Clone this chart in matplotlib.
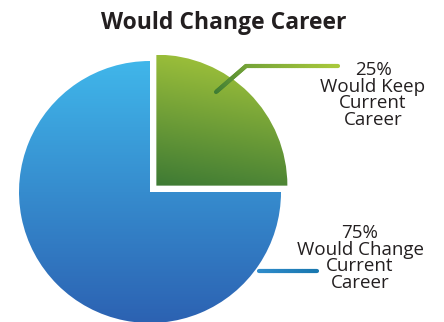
import numpy as np
import matplotlib.pyplot as plt
from matplotlib.colors import LinearSegmentedColormap
from matplotlib.collections import LineCollection

# data
labels = ['Would Keep\nCurrent\nCareer', 'Would Change\nCurrent\nCareer']
shares = [25, 75]
pcts = ['25%', '75%']

title = 'Would Change Career'
text_color = '#231f20'

# gradient colours (top -> bottom)
green_grad = ['#a8c83b', '#3e7a34']
blue_grad = ['#40b6ea', '#2c62b2']

plt.rcParams['font.family'] = ['Open Sans', 'DejaVu Sans']

fig = plt.figure(figsize=(4.44, 3.22), dpi=100)
ax = fig.add_axes([0, 0, 1, 1])

# pie drawn in pixel-like units (y up); explode is in data units here
cx, cy, r = 150, 130, 131
wedges, _ = ax.pie(shares, explode=[9.0, 0], startangle=0, counterclock=True,
                   center=(cx, cy), radius=r, colors=['none', 'none'],
                   frame=False)
ax.set_xlim(0, 444)
ax.set_ylim(0, 322)
ax.set_aspect('equal')
ax.axis('off')


def fill_gradient(wedge, cols, tilt=0.0):
    # top->bottom gradient clipped to the wedge
    bb = wedge.get_path().get_extents(wedge.get_patch_transform())
    yy, xx = np.mgrid[0:1:200j, 0:1:200j]
    g = yy * (1 - tilt) + xx * tilt
    cmap = LinearSegmentedColormap.from_list('g', [cols[1], cols[0]])
    im = ax.imshow(g, cmap=cmap, extent=(bb.x0, bb.x1, bb.y0, bb.y1),
                   origin='lower', aspect='auto', interpolation='bilinear',
                   zorder=1)
    im.set_clip_path(wedge)


fill_gradient(wedges[0], green_grad, tilt=0.15)
fill_gradient(wedges[1], blue_grad, tilt=0.0)


def grad_line(xs, ys, c0, c1, lw):
    pts = []
    for i in range(len(xs) - 1):
        for t in np.linspace(0, 1, 30, endpoint=False):
            pts.append((xs[i] + (xs[i + 1] - xs[i]) * t,
                        ys[i] + (ys[i + 1] - ys[i]) * t))
    pts.append((xs[-1], ys[-1]))
    pts = np.array(pts)
    segs = np.stack([pts[:-1], pts[1:]], axis=1)
    cmap = LinearSegmentedColormap.from_list('l', [c0, c1])
    lc = LineCollection(segs, cmap=cmap, linewidths=lw, capstyle='round',
                        zorder=3)
    lc.set_array(np.linspace(0, 1, len(segs)))
    ax.add_collection(lc)


# leader lines
grad_line([216, 246, 338], [322 - 92, 322 - 66, 322 - 66],
          '#3f7d34', '#a8c83b', 3.0)
grad_line([259, 317], [322 - 271, 322 - 271], '#2f8ccb', '#1a78b0', 3.0)

fs = 13.5
ax.text(373, 322 - 95, pcts[0] + '\n' + labels[0], ha='center', va='center',
        fontsize=fs, color=text_color, linespacing=0.92)
ax.text(360, 322 - 258, pcts[1] + '\n' + labels[1], ha='center', va='center',
        fontsize=fs, color=text_color, linespacing=0.92)

ax.text(224, 322 - 23, title, ha='center', va='center', fontsize=16.5,
        fontweight='bold', color=text_color)

fig.savefig('out.png', dpi=100)
